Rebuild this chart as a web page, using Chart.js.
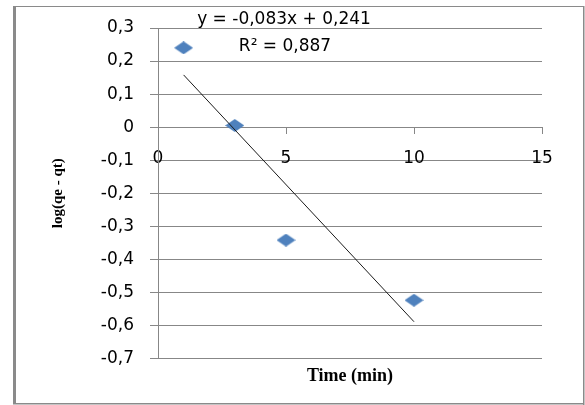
<!DOCTYPE html>
<html>
<head>
<meta charset="utf-8">
<script src="https://cdn.jsdelivr.net/npm/chart.js@4/dist/chart.umd.min.js"></script>
<style>
  html, body { margin: 0; padding: 0; background: #fff; }
  canvas { display: block; }
</style>
</head>
<body>
<canvas id="chart" width="585" height="405"></canvas>
<script>
// data
const timeMin = [1, 3, 5, 10];
const logQ = [0.24, 0.005, -0.342, -0.524];
const xTicks = [0, 5, 10, 15];
const yTicks = [0.3, 0.2, 0.1, 0, -0.1, -0.2, -0.3, -0.4, -0.5, -0.6, -0.7];

// trend line as printed on the chart
const slope = -0.083;
const intercept = 0.241;
const trendX = [1, 10];
const eqLabel = 'y = -0,083x + 0,241';
const r2Label = 'R² = 0,887';

const gray = '#878787';
const tickFont = { family: 'DejaVu Sans', size: 17 };

// flattened diamond like the excel marker
const marker = document.createElement('canvas');
marker.width = 19;
marker.height = 13;
(function () {
  const c = marker.getContext('2d');
  c.fillStyle = '#4f81bd';
  c.beginPath();
  c.moveTo(9.5, 0);
  c.lineTo(19, 6.5);
  c.lineTo(9.5, 13);
  c.lineTo(0, 6.5);
  c.closePath();
  c.fill();
})();

const fmt = v => {
  const r = Math.round(v * 10) / 10;
  return r === 0 ? '0' : r.toFixed(1).replace('.', ',');
};

const frame = {
  id: 'frame',
  beforeDraw(chart) {
    const ctx = chart.ctx;
    ctx.save();
    ctx.fillStyle = '#fff';
    ctx.fillRect(0, 0, chart.width, chart.height);
    ctx.fillStyle = '#8a8a8a';
    ctx.fillRect(13, 6, 3, 398);
    ctx.fillRect(13, 6, 571, 1);
    ctx.fillRect(583, 6, 1.5, 399);
    ctx.fillRect(13, 403, 571, 1.5);
    ctx.restore();
  },
  afterDraw(chart) {
    const ctx = chart.ctx;
    ctx.save();
    ctx.fillStyle = '#000';
    ctx.font = '17px "DejaVu Sans"';
    ctx.textAlign = 'center';
    ctx.textBaseline = 'middle';
    ctx.fillText(eqLabel, 284, 20);
    ctx.fillText(r2Label, 285, 47);
    ctx.restore();
  }
};

new Chart(document.getElementById('chart'), {
  type: 'scatter',
  data: {
    datasets: [
      {
        type: 'line',
        data: trendX.map(x => ({ x: x, y: slope * x + intercept })),
        borderColor: '#1a1a1a',
        borderWidth: 1,
        pointRadius: 0,
        fill: false,
        order: 0
      },
      {
        data: timeMin.map((t, i) => ({ x: t, y: logQ[i] })),
        pointStyle: marker,
        pointRadius: 9,
        order: 1
      }
    ]
  },
  options: {
    responsive: false,
    devicePixelRatio: 1,
    animation: false,
    layout: { padding: { left: 40, top: 28, right: 43, bottom: 18 } },
    plugins: {
      legend: { display: false },
      tooltip: { enabled: false },
      title: {
        display: true,
        position: 'bottom',
        fullSize: false,
        text: 'Time (min)',
        color: '#000',
        font: { family: 'Liberation Serif', size: 18, weight: 'bold' },
        padding: { top: 7, bottom: 0 }
      }
    },
    scales: {
      x: {
        type: 'linear',
        min: 0,
        max: 15,
        position: { y: 0 },
        afterBuildTicks: s => { s.ticks = xTicks.map(v => ({ value: v })); },
        afterFit: s => { s.height = 0; },
        ticks: { font: tickFont, color: '#000', padding: 15 },
        grid: { drawOnChartArea: false, drawTicks: true, tickLength: 6, color: gray },
        border: { color: gray }
      },
      y: {
        min: -0.7,
        max: 0.3,
        afterBuildTicks: s => { s.ticks = yTicks.slice().reverse().map(v => ({ value: v })); },
        afterFit: s => { s.width = 118; },
        ticks: { font: tickFont, color: '#000', padding: 16, callback: v => fmt(v) },
        grid: { color: gray, tickLength: 8 },
        border: { color: gray },
        title: {
          display: true,
          text: 'log(qe - qt)',
          color: '#000',
          font: { family: 'Liberation Serif', size: 15, weight: 'bold' },
          padding: { top: 9, bottom: 0 }
        }
      }
    }
  },
  plugins: [frame]
});
</script>
</body>
</html>
